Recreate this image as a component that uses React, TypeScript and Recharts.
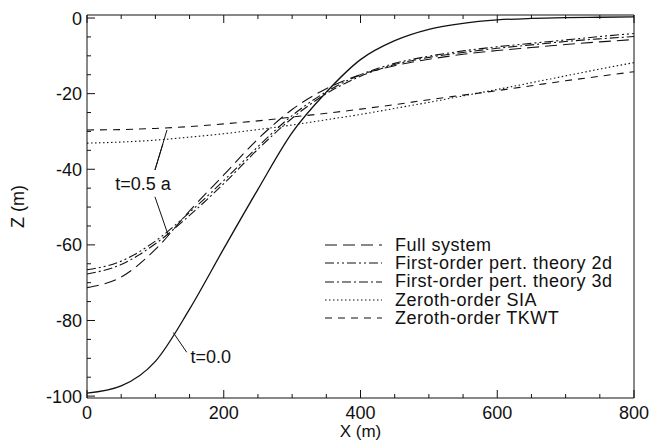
import { LineChart, Line, XAxis, YAxis, ReferenceLine, ReferenceDot } from "recharts";

// horizontal position along the flow line (m)
const xValues = [0, 50, 100, 150, 200, 250, 300, 350, 400, 450, 500, 550, 600, 650, 700, 750, 800];

// surface elevation Z (m)
const initialProfile = [-99.2, -97.3, -90.8, -77, -61, -45.3, -30.3, -19.6, -11, -6, -3, -1.4, -0.5, -0.1, 0.1, 0.2, 0.3];
const fullSystem = [-71.3, -68.5, -61.2, -51, -41.5, -32, -24.2, -18.7, -15, -12.6, -10.9, -9.6, -8.6, -7.8, -7, -6.3, -5.7];
const pert2d = [-66.6, -64.3, -59, -51.4, -43, -34, -25.8, -19.5, -15, -12, -10.1, -8.7, -7.6, -6.7, -5.8, -4.9, -4.1];
const pert3d = [-67.7, -65.2, -59.7, -52.2, -43.8, -34.7, -26.5, -20, -15.4, -12.3, -10.4, -9.1, -8, -7.1, -6.2, -5.5, -4.9];
const zerothSIA = [-33.1, -32.8, -32.3, -31.5, -30.6, -29.5, -28.3, -26.9, -25.5, -23.9, -22.3, -20.6, -18.9, -17.1, -15.3, -13.5, -11.8];
const zerothTKWT = [-29.6, -29.5, -29.2, -28.7, -28, -27.2, -26.2, -25.2, -24.1, -22.9, -21.6, -20.4, -19.2, -17.9, -16.6, -15.4, -14.2];

const xTicks = [0, 50, 100, 150, 200, 250, 300, 350, 400, 450, 500, 550, 600, 650, 700, 750, 800];
const zTicks = [-100, -95, -90, -85, -80, -75, -70, -65, -60, -55, -50, -45, -40, -35, -30, -25, -20, -15, -10, -5, 0];

const series = [
  { key: "full", name: "Full system", dash: "12 6", values: fullSystem },
  { key: "pert2d", name: "First-order pert. theory 2d", dash: "9 3 2 3 2 3", values: pert2d },
  { key: "pert3d", name: "First-order pert. theory 3d", dash: "9 3 2 3", values: pert3d },
  { key: "sia", name: "Zeroth-order SIA", dash: "1.5 2.5", values: zerothSIA },
  { key: "tkwt", name: "Zeroth-order TKWT", dash: "7 6", values: zerothTKWT },
];

const data = xValues.map((x, i) => {
  const row: Record<string, number> = { x, t0: initialProfile[i] };
  series.forEach((s) => (row[s.key] = s.values[i]));
  return row;
});

const FONT = "'Liberation Sans', Arial, sans-serif";
const INK = "#111";
const FS = 18;

const BottomTick = (props: any) => {
  const { x, y, payload } = props;
  const major = payload.value % 200 === 0;
  return (
    <g>
      <line x1={x} x2={x} y1={y} y2={y - (major ? 8 : 4)} stroke={INK} />
      {major && (
        <text x={x} y={y + 21} textAnchor="middle" fontSize={FS} fontFamily={FONT} fill={INK}>
          {payload.value}
        </text>
      )}
    </g>
  );
};

const TopTick = (props: any) => {
  const { x, y, payload } = props;
  const major = payload.value % 200 === 0;
  return <line x1={x} x2={x} y1={y} y2={y + (major ? 8 : 4)} stroke={INK} />;
};

const LeftTick = (props: any) => {
  const { x, y, payload } = props;
  const major = payload.value % 20 === 0;
  return (
    <g>
      <line x1={x} x2={x + (major ? 8 : 4)} y1={y} y2={y} stroke={INK} />
      {major && (
        <text x={x - 5} y={y + 6.5} textAnchor="end" fontSize={FS} fontFamily={FONT} fill={INK}>
          {payload.value}
        </text>
      )}
    </g>
  );
};

const RightTick = (props: any) => {
  const { x, y, payload } = props;
  const major = payload.value % 20 === 0;
  return <line x1={x} x2={x - (major ? 8 : 4)} y1={y} y2={y} stroke={INK} />;
};

const ZLabel = (props: any) => {
  const { viewBox } = props;
  const cx = viewBox.x - 39;
  const cy = viewBox.y + viewBox.height / 2;
  return (
    <text x={cx} y={cy} transform={`rotate(-90 ${cx} ${cy})`} textAnchor="middle" dominantBaseline="central"
      fontSize={FS} fontFamily={FONT} fill={INK}>
      Z (m)
    </text>
  );
};

const annotation = { fontSize: FS, fontFamily: FONT, fill: INK };

export default function App() {
  return (
    <div style={{ position: "absolute", left: 0, top: 0, width: 652, height: 443, background: "#fff" }}>
      <LineChart width={652} height={443} data={data} margin={{ top: 5, right: 8, bottom: 0, left: 57 }}>
        <XAxis
          dataKey="x"
          type="number"
          domain={[0, 800]}
          ticks={xTicks}
          interval={0}
          height={45}
          tickSize={0}
          tickMargin={0}
          tickLine={false}
          axisLine={{ stroke: INK }}
          tick={<BottomTick />}
          label={{ value: "X (m)", position: "insideBottom", offset: 6, fontSize: 17, fontFamily: FONT, fill: INK }}
        />
        <XAxis
          xAxisId="top"
          orientation="top"
          dataKey="x"
          type="number"
          domain={[0, 800]}
          ticks={xTicks}
          interval={0}
          height={10}
          tickSize={0}
          tickMargin={0}
          tickLine={false}
          axisLine={{ stroke: INK }}
          tick={<TopTick />}
        />
        <YAxis
          type="number"
          domain={[-100.5, 0.8]}
          ticks={zTicks}
          interval={0}
          width={30}
          tickSize={0}
          tickMargin={0}
          tickLine={false}
          axisLine={{ stroke: INK }}
          tick={<LeftTick />}
          label={<ZLabel />}
        />
        <YAxis
          yAxisId="right"
          orientation="right"
          type="number"
          domain={[-100.5, 0.8]}
          ticks={zTicks}
          interval={0}
          width={10}
          tickSize={0}
          tickMargin={0}
          tickLine={false}
          axisLine={{ stroke: INK }}
          tick={<RightTick />}
        />
        <Line dataKey="t0" type="monotone" stroke={INK} strokeWidth={1.3} dot={false} isAnimationActive={false} />
        {series.map((s) => (
          <Line key={s.key} dataKey={s.key} name={s.name} type="monotone" stroke={INK} strokeWidth={1.1}
            strokeDasharray={s.dash} dot={false} isAnimationActive={false} />
        ))}
        <ReferenceLine segment={[{ x: 99.4, y: -40.2 }, { x: 117, y: -29.6 }]} stroke={INK} />
        <ReferenceLine segment={[{ x: 99.4, y: -40.2 }, { x: 111, y: -33.3 }]} stroke={INK} />
        <ReferenceLine segment={[{ x: 99.4, y: -47.3 }, { x: 118.9, y: -57.5 }]} stroke={INK} />
        <ReferenceLine segment={[{ x: 145.8, y: -88.4 }, { x: 126.2, y: -83.2 }]} stroke={INK} />
        <ReferenceDot x={82} y={-43.7} r={0} fill="none" stroke="none"
          label={{ value: "t=0.5 a", position: "center", ...annotation }} />
        <ReferenceDot x={181} y={-89.5} r={0} fill="none" stroke="none"
          label={{ value: "t=0.0", position: "center", ...annotation }} />
      </LineChart>
      <div style={{ position: "absolute", left: 322, top: 236, fontFamily: FONT, fontSize: FS, color: INK }}>
        {series.map((s) => (
          <div key={s.key} style={{ display: "flex", alignItems: "center", height: 18.3, whiteSpace: "nowrap" }}>
            <svg width={62} height={10} style={{ marginRight: 11 }}>
              <line x1={3} x2={60} y1={5} y2={5} stroke={INK} strokeWidth={1.1} strokeDasharray={s.dash} />
            </svg>
            <span style={{ letterSpacing: 0.5 }}>{s.name}</span>
          </div>
        ))}
      </div>
    </div>
  );
}
